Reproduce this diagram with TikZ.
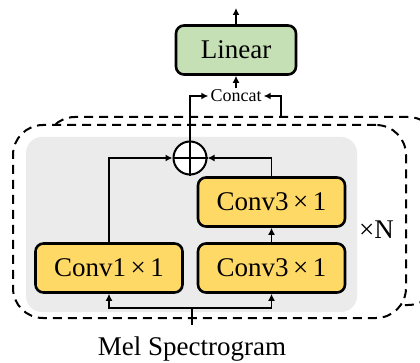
\documentclass[tikz,border=0pt]{standalone}
\usepackage{fontspec}
\setmainfont{Liberation Serif}
\usepackage{xcolor}
\usepackage{tikz}
\usetikzlibrary{arrows.meta, positioning}

\definecolor{convyellow}{HTML}{FFD966}
\definecolor{lingreen}{HTML}{C5E0B4}
\definecolor{blockgray}{HTML}{EBEBEB}

\begin{document}
\begin{tikzpicture}[
        x=1pt, y=1pt,
        conv/.style={rectangle, rounded corners=8pt, draw=black, line width=2.6pt, fill=convyellow, minimum width=147pt, minimum height=49pt, font=\fontsize{27}{32}\selectfont},
        lin/.style={rectangle, rounded corners=8pt, draw=black, line width=2.6pt, fill=lingreen, minimum width=120pt, minimum height=49pt, font=\fontsize{27}{32}\selectfont},
        sumop/.style={circle, draw=black, fill=white, line width=2pt, minimum size=33pt, inner sep=0pt},
        dashbox/.style={rectangle, rounded corners=30pt, draw=black, dash pattern=on 9pt off 6pt, line width=2pt, minimum width=393pt, minimum height=193pt},
        arrow/.style={-{Latex[length=7pt,width=7pt]}, line width=1.8pt},
        plain/.style={line width=1.8pt}
    ]
    \useasboundingbox (0,0) rectangle (420,362);

    % --- Stacked blocks (dashed) ---
    \node[dashbox, minimum height=188pt] (outer) at (241.5,151) {};
    \node[dashbox, fill=white] (inner) at (209.5,140.5) {};
    \fill[blockgray, rounded corners=16pt] (26,50) rectangle (357,225);
    \node[font=\fontsize{27}{32}\selectfont] (times) at (376.5,132) {×N};

    % --- Nodes ---
    \node[conv] (conv1) at (109,94) {Conv1\,×\,1};
    \node[conv] (conv3a) at (271.5,94) {Conv3\,×\,1};
    \node[conv] (conv3b) at (271.5,160) {Conv3\,×\,1};
    \node[sumop] (sum) at (190,204) {};
    \draw[line width=2pt] (sum.north) -- (sum.south);
    \draw[line width=2pt] (sum.west) -- (sum.east);

    % Concat and output
    \node[font=\fontsize{18}{20}\selectfont, inner sep=2pt] (cat) at (236,266) {Concat};
    \node[lin] (linear) at (236,312) {Linear};
    \coordinate (out) at (236,354);

    % Input
    \node[anchor=base, font=\fontsize{27}{32}\selectfont] (mel) at (192,7) {Mel Spectrogram};
    \coordinate (melin) at (192,37);
    \coordinate (split) at (192,54);

    % --- Edges ---
    \draw[plain] (melin) -- (split);
    \draw[arrow] (split) -| (conv1.south);
    \draw[arrow] (split) -| (conv3a.south);
    \draw[arrow] (conv3a) -- (conv3b);
    \draw[arrow] (conv1.north) |- (sum.west);
    \draw[arrow] (conv3b.north) |- (sum.east);

    \draw[arrow] (sum.north) |- (cat.west);
    \draw[arrow] (281,0 |- outer.north) |- (cat.east);
    \draw[arrow] (cat.north) -- (linear.south);
    \draw[arrow] (linear) -- (out);

    \end{tikzpicture}
\end{document}
